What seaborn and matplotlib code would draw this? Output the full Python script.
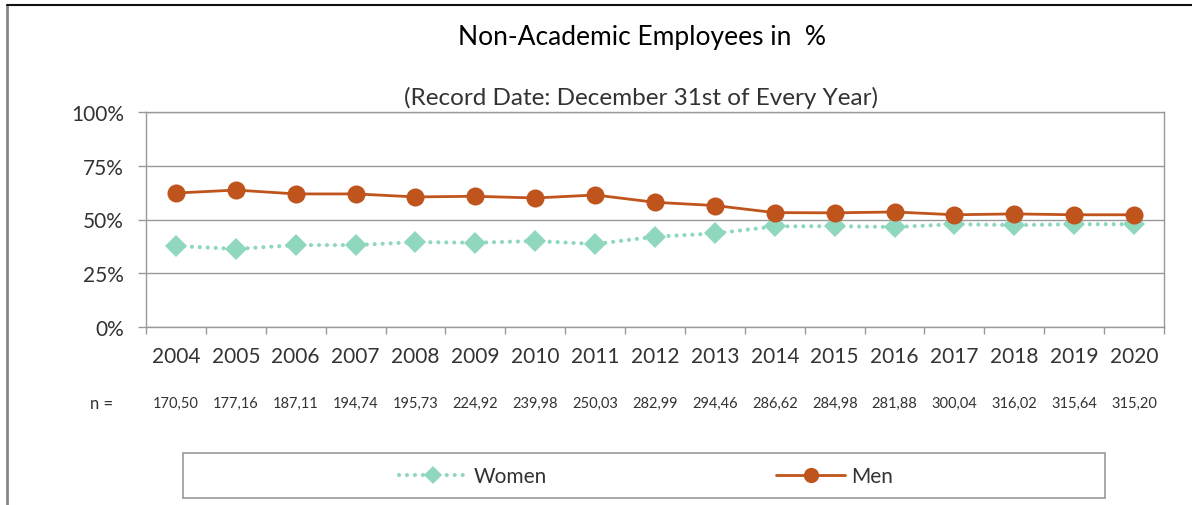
import pandas as pd
import numpy as np
import matplotlib
matplotlib.use("Agg")
import matplotlib.pyplot as plt
import seaborn as sns
from matplotlib.lines import Line2D

# ---------------------------------------------------------------------------
# Data
# ---------------------------------------------------------------------------
YEARS = [str(y) for y in range(2004, 2021)]
WOMEN = [37.7, 36.3, 38.1, 38.1, 39.5, 39.2, 40.0, 38.6, 42.0, 43.5,
         46.8, 46.9, 46.5, 47.8, 47.4, 47.8, 47.8]
MEN = [62.3, 63.7, 61.9, 61.9, 60.5, 60.8, 60.0, 61.4, 58.0, 56.5,
       53.2, 53.1, 53.5, 52.2, 52.6, 52.2, 52.2]
N_LABELS = ["170,50", "177,16", "187,11", "194,74", "195,73", "224,92", "239,98",
            "250,03", "282,99", "294,46", "286,62", "284,98", "281,88", "300,04",
            "316,02", "315,64", "315,20"]

COLORS = {"Women": "#8FD7BD", "Men": "#C0541D"}
DOTTED = (0, (0.01, 1.9))

sns.set_theme(style="white")
plt.rcParams["font.family"] = ["Lato", "DejaVu Sans"]

df = pd.DataFrame({"year": YEARS * 2,
                   "share": WOMEN + MEN,
                   "sex": ["Women"] * len(YEARS) + ["Men"] * len(YEARS)})
df["x"] = np.tile(np.arange(len(YEARS)), 2)

fig = plt.figure(figsize=(11.92, 5.06), dpi=100)
ax = fig.add_axes([146 / 1192, 1 - 328 / 506, (1164 - 146) / 1192, (328 - 113) / 506])

women = df[df["sex"] == "Women"]
men = df[df["sex"] == "Men"]
sns.lineplot(data=women, x="x", y="share", ax=ax, color=COLORS["Women"],
             linestyle=DOTTED, dash_capstyle="round", linewidth=3,
             marker="D", markersize=11, markeredgewidth=0, zorder=3)
sns.lineplot(data=men, x="x", y="share", ax=ax, color=COLORS["Men"],
             linewidth=2, marker="o", markersize=13, markeredgewidth=0, zorder=4)

ax.set_xlim(-0.5, len(YEARS) - 0.5)
ax.set_ylim(0, 100)
ax.set_yticks([0, 25, 50, 75, 100])
ax.set_yticklabels(["0%", "25%", "50%", "75%", "100%"])
ax.set_xticks(np.arange(len(YEARS)))
ax.set_xticklabels(YEARS)
ax.set_xticks(np.arange(len(YEARS) + 1) - 0.5, minor=True)
ax.tick_params(axis="x", which="major", length=0, pad=14, labelsize=15, colors="#333333")
ax.tick_params(axis="x", which="minor", length=5, width=1, color="#999999", direction="out")
ax.tick_params(axis="y", length=6, width=1, color="#999999", direction="out",
               labelsize=15, labelcolor="#333333", pad=10)
ax.xaxis.set_ticks_position("bottom")
ax.yaxis.set_ticks_position("left")
for side in ["top", "bottom", "left", "right"]:
    ax.spines[side].set_color("#999999")
    ax.spines[side].set_linewidth(1)
ax.yaxis.grid(True, color="#999999", linewidth=1)
ax.set_xlabel("")
ax.set_ylabel("")
if ax.get_legend():
    ax.get_legend().remove()

# n row
fig.text(102 / 1192, 1 - 404 / 506, "n =", ha="center", va="center",
         fontsize=12, color="#333333")
for i, lab in enumerate(N_LABELS):
    xf = ax.transData.transform((i, 0))[0] / fig.bbox.width
    fig.text(xf, 1 - 404 / 506, lab, ha="center", va="center",
             fontsize=10.5, color="#333333")

# titles
fig.text(642 / 1192, 1 - 38 / 506, "Non-Academic Employees in  %", ha="center",
         va="center", fontsize=19, color="#000000")
fig.text(641 / 1192, 1 - 98 / 506, "(Record Date: December 31st of Every Year)",
         ha="center", va="center", fontsize=17.5, color="#333333")

# outer frame: left and top lines
fig.add_artist(Line2D([7 / 1192, 7 / 1192], [0, 1 - 6 / 506], color="#888888",
                      linewidth=2, transform=fig.transFigure))
fig.add_artist(Line2D([7 / 1192, 1], [1 - 6 / 506, 1 - 6 / 506], color="#111111",
                      linewidth=1.5, transform=fig.transFigure))

# legend box
handles = [
    Line2D([], [], color=COLORS["Women"], linestyle=DOTTED, linewidth=3,
           dash_capstyle="round", marker="D", markersize=9, markeredgewidth=0),
    Line2D([], [], color=COLORS["Men"], linewidth=2, marker="o", markersize=11,
           markeredgewidth=0),
]
leg = fig.legend(handles, ["Women", "Men"], loc="center",
                 bbox_to_anchor=(646 / 1192, 1 - 477 / 506), ncol=2,
                 frameon=False, fontsize=15, handlelength=3.3, columnspacing=11,
                 handletextpad=0.3)
for t in leg.get_texts():
    t.set_color("#333333")
fig.add_artist(plt.Rectangle((183 / 1192, 1 - 499 / 506), (1105 - 183) / 1192,
                             45 / 506, transform=fig.transFigure, fill=False,
                             edgecolor="#999999", linewidth=1.2))

fig.savefig("out.png", dpi=100)
